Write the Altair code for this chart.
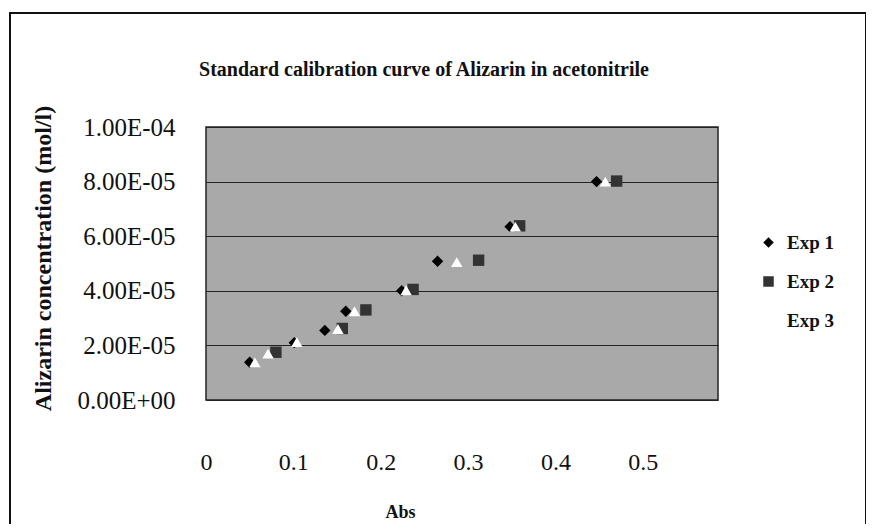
import altair as alt
import pandas as pd

series_names = ["Exp 1", "Exp 2", "Exp 3"]
exp1_abs = [0.050, 0.101, 0.136, 0.160, 0.224, 0.265, 0.348, 0.447]
exp1_conc = [1.38e-5, 2.10e-5, 2.55e-5, 3.25e-5, 4.00e-5, 5.08e-5, 6.35e-5, 8.00e-5]
exp2_abs = [0.080, 0.156, 0.183, 0.237, 0.312, 0.359, 0.470]
exp2_conc = [1.75e-5, 2.62e-5, 3.30e-5, 4.05e-5, 5.12e-5, 6.38e-5, 8.02e-5]
exp3_abs = [0.056, 0.071, 0.104, 0.151, 0.170, 0.229, 0.287, 0.354, 0.457]
exp3_conc = [1.38e-5, 1.70e-5, 2.12e-5, 2.60e-5, 3.25e-5, 4.02e-5, 5.05e-5, 6.35e-5, 8.00e-5]
x_ticks = [0, 0.1, 0.2, 0.3, 0.4, 0.5]
y_ticks = [0, 2e-5, 4e-5, 6e-5, 8e-5, 1e-4]
chart_title = "Standard calibration curve of Alizarin in acetonitrile"

rows = []
for name, xs, ys in zip(series_names, [exp1_abs, exp2_abs, exp3_abs], [exp1_conc, exp2_conc, exp3_conc]):
    for a, c in zip(xs, ys):
        rows.append({"series": name, "abs": a, "conc": c})
df = pd.DataFrame(rows)

FONT = "Liberation Serif"
W, H = 512, 273
PL, PT = 198, 119

legend_cfg = dict(title=None, orient="none", legendX=553, legendY=106,
                  labelFont=FONT, labelFontSize=19, labelFontWeight="bold",
                  labelColor="#111", symbolSize=110, symbolStrokeWidth=0,
                  rowPadding=19, labelOffset=9, padding=0)

points = alt.Chart(df).mark_point(filled=True, size=130, opacity=1, strokeWidth=0).encode(
    x=alt.X("abs:Q",
            scale=alt.Scale(domain=[0, 0.586], nice=False, zero=False),
            axis=alt.Axis(values=x_ticks, grid=False, domain=False, ticks=False,
                          labelExpr="datum.value == 0 ? '0' : format(datum.value, '.1f')",
                          labelFont=FONT, labelFontSize=24, labelColor="#111",
                          labelPadding=50, labelFlush=False,
                          title="Abs", titleFont=FONT, titleFontSize=18, titleFontWeight="bold",
                          titleColor="#111", titleX=194, titleY=112, titleBaseline="middle",
                          titleAlign="center")),
    y=alt.Y("conc:Q",
            scale=alt.Scale(domain=[0, 1e-4], nice=False),
            axis=alt.Axis(values=y_ticks, grid=True, gridColor="#222", gridWidth=1,
                          domain=False, ticks=False,
                          labelExpr="replace(replace(format(datum.value, '.2e'), 'e-', 'E-0'), 'e+', 'E+0')",
                          labelFont=FONT, labelFontSize=25, labelColor="#111",
                          labelPadding=31, labelFlush=False,
                          title="Alizarin concentration (mol/l)", titleFont=FONT, titleFontSize=24,
                          titleFontWeight="bold", titleColor="#111", titleX=-163, titleY=131,
                          titleAngle=270, titleBaseline="middle", titleAlign="center")),
    shape=alt.Shape("series:N",
                    scale=alt.Scale(domain=series_names, range=["diamond", "square", "triangle-up"]),
                    legend=alt.Legend(**legend_cfg)),
    fill=alt.Fill("series:N",
                  scale=alt.Scale(domain=series_names, range=["#000000", "#333333", "#ffffff"]),
                  legend=alt.Legend(**legend_cfg)),
    order=alt.Order("series:N"),
)

frame = alt.Chart(pd.DataFrame({"a": [0]})).mark_rect(
    fillOpacity=0, stroke="#111", strokeWidth=2
).encode(
    x=alt.value(-196), x2=alt.value(660), y=alt.value(-114), y2=alt.value(400)
)

title_text = alt.Chart(pd.DataFrame({"t": [chart_title]})).mark_text(
    font=FONT, fontSize=20, fontWeight="bold", color="#111", align="center", baseline="middle"
).encode(
    text="t:N", x=alt.value(218), y=alt.value(-57)
)

chart = alt.layer(frame, title_text, points).properties(
    width=W, height=H,
    background="white",
    autosize=alt.AutoSizeParams(type="none"),
    padding={"left": PL, "top": PT, "right": 148, "bottom": 124},
).configure_view(fill="#a9a9a9", stroke="#222222", strokeWidth=1.5)

chart.save("out.html", embed_options={"renderer": "svg", "actions": False})
